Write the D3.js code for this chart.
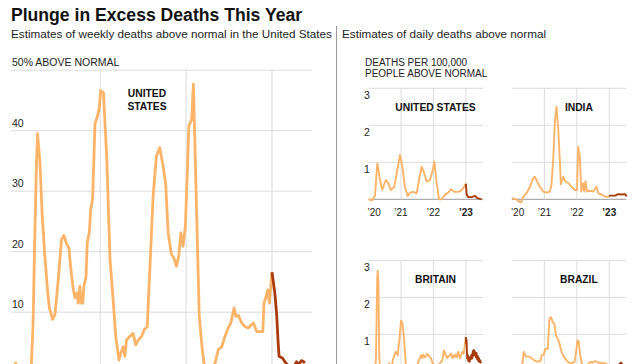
<!DOCTYPE html>
<html>
<head>
<meta charset="utf-8">
<script src="https://cdn.jsdelivr.net/npm/d3@7"></script>
<style>
  body { margin: 0; background: #fff; }
  svg { display: block; font-family: "Liberation Sans", Arial, Helvetica, sans-serif; }
</style>
</head>
<body>
<svg id="chart" width="640" height="364"></svg>
<script>
// weekly excess deaths in the US, percent above normal
const weeklyDates = [
  "2020-01-05","2020-01-19","2020-02-02","2020-02-16","2020-03-01","2020-03-15","2020-03-22","2020-03-29",
  "2020-04-05","2020-04-10","2020-04-20","2020-04-30","2020-05-11","2020-05-21","2020-05-30","2020-06-13",
  "2020-06-23","2020-07-07","2020-07-21","2020-07-31","2020-08-12","2020-08-21","2020-08-30","2020-09-09",
  "2020-09-16","2020-09-23","2020-09-30","2020-10-07","2020-10-13","2020-10-19","2020-10-24","2020-11-02",
  "2020-11-07","2020-11-16","2020-11-22","2020-11-30","2020-12-10","2020-12-19","2020-12-28","2021-01-03",
  "2021-01-15","2021-01-29","2021-02-12","2021-02-26","2021-03-08","2021-03-22","2021-03-30","2021-04-09",
  "2021-04-16","2021-04-23","2021-05-07","2021-05-21","2021-06-01","2021-06-12","2021-06-26","2021-07-07",
  "2021-07-20","2021-07-31","2021-08-14","2021-08-28","2021-09-11","2021-09-25","2021-10-06","2021-10-17",
  "2021-10-31","2021-11-10","2021-11-21","2021-12-01","2021-12-10","2021-12-19","2021-12-29","2022-01-13",
  "2022-01-25","2022-02-01","2022-02-12","2022-02-26","2022-03-08","2022-03-18","2022-04-01","2022-04-18",
  "2022-05-04","2022-05-18","2022-06-02","2022-06-15","2022-06-29","2022-07-10","2022-07-24","2022-08-01",
  "2022-08-11","2022-08-26","2022-09-09","2022-09-23","2022-10-03","2022-10-14","2022-10-28","2022-11-11",
  "2022-11-23","2022-11-28","2022-12-07","2022-12-14","2022-12-21","2022-12-27","2023-01-01","2023-01-13",
  "2023-01-21","2023-01-27","2023-01-31","2023-02-15","2023-02-25","2023-03-10","2023-03-25","2023-04-08",
  "2023-04-15","2023-04-26","2023-05-06","2023-05-16","2023-05-20"
];
const weeklyExcess = [
  1.8, 0.8, 0.5, 0.3, 0.6, 1.5, 8, 22,
  34, 39.5, 34.8, 25.9, 19.3, 14.3, 10.7, 8.8,
  9.6, 15.4, 22, 22.7, 21.2, 20.7, 17, 13.7,
  12.4, 13.2, 11.5, 14.3, 11.5, 11.5, 14.3, 15.9,
  21.5, 23.2, 27, 28.7, 41.1, 42.2, 43.6, 46.6,
  46.3, 35.5, 18.7, 11.6, 6, 2.1, 3.3, 4.3,
  2.7, 5.4, 6, 6.5, 4.6, 5.4, 6, 7.1,
  7.6, 17, 29.2, 35.8, 37.2, 34.2, 31.4, 23.1,
  19.5, 19, 17.6, 19.3, 23.1, 20.9, 24.2, 40.8,
  41.9, 47.7, 30.9, 9.3, 4.9, 1.6, 0.6, 0.8,
  1.6, 3.8, 4.3, 6, 7.4, 8.2, 10.7, 9.3,
  9.5, 8.2, 7.6, 7.4, 7.8, 8.2, 6.8, 6.8,
  6.8, 11.5, 12.6, 13.7, 11.5, 14.3, 16.6, 13.2,
  9.5, 5, 2.7, 2.4, 1.8, 1.2, 1.0, 1.3,
  1.8, 1.4, 2, 1.8, 1.6
];
const weeklyTicks = [10, 20, 30, 40, 50];

// daily excess deaths per 100,000 people
const countryNames = ["UNITED STATES", "INDIA", "BRITAIN", "BRAZIL"];
const usDaily = [
  ["2020-01-01",0],["2020-02-09",-0.03],["2020-03-14",0.1],["2020-04-09",0.97],["2020-04-25",0.75],
  ["2020-05-10",0.52],["2020-06-04",0.25],["2020-07-13",0.52],["2020-08-11",0.43],["2020-09-10",0.25],
  ["2020-10-17",0.34],["2020-11-13",0.7],["2020-12-21",1.2],["2021-01-16",0.88],["2021-02-14",0.34],
  ["2021-03-17",0.09],["2021-04-12",0.18],["2021-05-19",0.2],["2021-06-26",0.16],["2021-07-22",0.52],
  ["2021-08-22",0.88],["2021-09-20",0.7],["2021-10-17",0.48],["2021-11-23",0.52],["2021-12-24",0.79],
  ["2022-01-11",1.02],["2022-02-07",0.43],["2022-03-05",0],["2022-04-04",0],["2022-05-11",0.12],
  ["2022-06-17",0.18],["2022-07-18",0.27],["2022-08-24",0.2],["2022-10-08",0.2],["2022-11-15",0.25],
  ["2022-12-15",0.35],["2023-01-01",0.42],["2023-01-11",0.12],["2023-01-29",0.06],["2023-03-07",0.06],
  ["2023-04-13",0.09],["2023-05-13",0.03],["2023-06-27",0]
];
const indiaDaily = [
  ["2020-01-01",0.03],["2020-02-21",0],["2020-03-19",-0.06],["2020-04-17",-0.08],["2020-05-07",0.07],
  ["2020-06-13",0.16],["2020-07-22",0.34],["2020-08-28",0.57],["2020-09-16",0.61],["2020-10-15",0.46],
  ["2020-11-11",0.34],["2020-12-18",0.21],["2021-01-25",0.18],["2021-03-03",0.21],["2021-03-21",0.39],
  ["2021-04-09",1.02],["2021-04-29",2.1],["2021-05-17",2.5],["2021-06-05",1.92],["2021-06-24",1.02],
  ["2021-07-05",0.41],["2021-07-31",0.61],["2021-08-26",0.48],["2021-09-26",0.44],["2021-11-02",0.34],
  ["2021-12-10",0.25],["2022-01-02",0.25],["2022-01-17",1.42],["2022-02-05",1.1],["2022-02-20",0.21],
  ["2022-03-11",0.43],["2022-03-26",0.21],["2022-04-09",0.49],["2022-04-25",0.21],["2022-05-29",0.23],
  ["2022-07-05",0.21],["2022-08-11",0.34],["2022-08-30",0.16],["2022-10-06",0.13],["2022-11-14",0.07],
  ["2022-12-21",0.07],["2023-01-01",0.08],["2023-01-10",0.1],["2023-03-07",0.1],["2023-04-13",0.14],
  ["2023-05-21",0.13],["2023-06-28",0.14],["2023-07-16",0.08]
];
const britainDaily = [
  ["2020-01-01",0.05],["2020-03-01",0],["2020-03-25",0.3],["2020-04-08",2.5],["2020-04-14",2.72],
  ["2020-04-22",2.4],["2020-05-01",0.44],["2020-05-10",0.1],["2020-06-15",-0.05],["2020-08-01",0.05],
  ["2020-08-19",0.22],["2020-09-15",0.1],["2020-10-06",0.35],["2020-11-02",0.53],["2020-11-25",0.44],
  ["2020-12-13",0.84],["2021-01-01",1.37],["2021-01-15",1.33],["2021-02-01",0.97],["2021-02-15",0.53],
  ["2021-02-26",0.1],["2021-04-15",-0.05],["2021-06-15",0.05],["2021-07-15",0.26],["2021-08-15",0.44],
  ["2021-08-28",0.36],["2021-09-10",0.46],["2021-09-22",0.38],["2021-10-07",0.4],["2021-10-20",0.47],
  ["2021-11-05",0.44],["2021-12-05",0.35],["2021-12-24",0.22],["2022-02-07",0.12],["2022-04-11",0.3],
  ["2022-04-30",0.57],["2022-05-19",0.44],["2022-06-05",0.36],["2022-06-17",0.4],["2022-07-18",0.48],
  ["2022-07-30",0.36],["2022-08-13",0.44],["2022-08-26",0.38],["2022-09-09",0.46],["2022-09-22",0.38],
  ["2022-10-08",0.53],["2022-10-27",0.35],["2022-11-22",0.53],["2022-12-08",0.48],["2023-01-01",0.93],
  ["2023-01-05",0.75],["2023-01-09",0.85],["2023-01-16",0.35],["2023-01-22",0.45],["2023-01-28",0.28],
  ["2023-02-04",0.38],["2023-02-12",0.26],["2023-02-20",0.4],["2023-02-27",0.33],["2023-03-06",0.45],
  ["2023-03-14",0.35],["2023-03-20",0.55],["2023-03-27",0.42],["2023-04-03",0.58],["2023-04-10",0.44],
  ["2023-04-17",0.52],["2023-04-24",0.38],["2023-05-01",0.5],["2023-05-08",0.33],["2023-05-15",0.42],
  ["2023-05-22",0.28],["2023-05-29",0.36],["2023-06-05",0.25],["2023-06-12",0.3],["2023-06-20",0.22]
];
const brazilDaily = [
  ["2020-01-01",0],["2020-03-10",-0.05],["2020-04-10",0.1],["2020-05-02",0.26],["2020-05-13",0.53],
  ["2020-06-08",0.4],["2020-07-16",0.4],["2020-08-11",0.35],["2020-09-10",0.3],["2020-10-10",0.26],
  ["2020-11-17",0.28],["2020-12-02",0.44],["2020-12-24",0.44],["2021-01-08",0.6],["2021-02-08",0.62],
  ["2021-02-27",1.42],["2021-03-17",1.47],["2021-04-05",1.33],["2021-04-24",1.29],["2021-05-12",0.97],
  ["2021-05-31",0.88],["2021-06-20",0.75],["2021-07-08",0.57],["2021-07-27",0.44],["2021-08-22",0.35],
  ["2021-09-22",0.26],["2021-10-29",0.22],["2021-12-06",0.26],["2021-12-24",0.53],["2022-01-08",0.84],
  ["2022-01-23",0.8],["2022-02-07",0.44],["2022-02-26",0.22],["2022-03-28",0.1],["2022-06-04",0.26],
  ["2022-06-30",0.24],["2022-07-26",0.28],["2022-08-25",0.24],["2022-10-02",0.22],["2022-11-16",0.22],
  ["2022-12-17",0.17],["2023-01-01",0.15],["2023-02-15",0.1],["2023-04-01",0.12],["2023-05-10",0.24],
  ["2023-06-15",0.15]
];
const dailyTicks = [1, 2, 3];
const yearLabels = ["\u201920", "\u201921", "\u201922", "\u201923"];
const yearStarts = ["2020-01-01", "2021-01-01", "2022-01-01", "2023-01-01"];
const cutoffDate = "2023-01-01";

const parse = d3.timeParse("%Y-%m-%d");
const cutoff = parse(cutoffDate);
const orange = "#fdb468", dark = "#a83a0c", grid = "#dcdcdc", ink = "#222";

const svg = d3.select("#chart");

// headline
svg.append("text").attr("x", 11).attr("y", 21)
  .attr("font-size", 17.6).attr("font-weight", "bold").attr("fill", "#111")
  .text("Plunge in Excess Deaths This Year");
svg.append("text").attr("x", 11).attr("y", 37.5)
  .attr("font-size", 11.7).attr("fill", ink)
  .text("Estimates of weekly deaths above normal in the United States");
svg.append("text").attr("x", 342).attr("y", 37.5)
  .attr("font-size", 11.7).attr("fill", ink)
  .text("Estimates of daily deaths above normal");
svg.append("line").attr("x1", 336.5).attr("x2", 336.5).attr("y1", 26).attr("y2", 364)
  .attr("stroke", "#999").attr("stroke-width", 1);

// ---- main weekly chart ----
const weekly = weeklyDates.map((d, i) => ({ date: parse(d), value: weeklyExcess[i] }));
const x = d3.scaleTime().domain([parse("2020-01-01"), parse("2023-01-01")]).range([14, 272]);
const y = d3.scaleLinear().domain([0, 50]).range([372.7, 70.2]);

const main = svg.append("g");
main.selectAll(".hgrid").data(weeklyTicks).join("line")
  .attr("x1", 11).attr("x2", 312)
  .attr("y1", d => y(d)).attr("y2", d => y(d))
  .attr("stroke", grid);
main.selectAll(".vgrid").data(yearStarts.slice(1)).join("line")
  .attr("x1", d => x(parse(d))).attr("x2", d => x(parse(d)))
  .attr("y1", y(50)).attr("y2", 364)
  .attr("stroke", grid);
main.selectAll(".ylab").data(weeklyTicks).join("text")
  .attr("x", 12).attr("y", d => y(d) - 4)
  .attr("font-size", 10.5).attr("fill", ink)
  .text(d => d === 50 ? "50% ABOVE NORMAL" : d);

const mainLine = d3.line().x(d => x(d.date)).y(d => y(d.value));
main.append("path").datum(weekly.filter(d => d.date <= cutoff))
  .attr("d", mainLine).attr("fill", "none").attr("stroke", orange)
  .attr("stroke-width", 2.8).attr("stroke-linejoin", "round");
main.append("path").datum(weekly.filter(d => d.date >= cutoff))
  .attr("d", mainLine).attr("fill", "none").attr("stroke", dark)
  .attr("stroke-width", 2.8).attr("stroke-linejoin", "round");

main.append("text").attr("x", 147).attr("y", 97)
  .attr("font-size", 10.3).attr("font-weight", "bold").attr("text-anchor", "middle").attr("fill", "#111")
  .selectAll("tspan").data(["UNITED", "STATES"]).join("tspan")
  .attr("x", 147).attr("dy", (d, i) => i ? 12.5 : 0).text(d => d);

// ---- small multiples ----
svg.append("text").attr("x", 365).attr("y", 65.7)
  .attr("font-size", 10).attr("fill", ink)
  .selectAll("tspan").data(["DEATHS PER 100,000", "PEOPLE ABOVE NORMAL"]).join("tspan")
  .attr("x", 365).attr("dy", (d, i) => i ? 11.6 : 0).text(d => d);

const panelSeries = [usDaily, indiaDaily, britainDaily, brazilDaily];
const colLeft = [368.5, 511.9];
const rowZero = [199.3, 371.4];
const yearWidth = 32.45;

panelSeries.forEach((series, i) => {
  const col = i % 2, row = Math.floor(i / 2);
  const left = colLeft[col], zero = rowZero[row];
  const px = d3.scaleTime().domain([parse("2020-01-01"), parse("2023-01-01")])
    .range([left, left + 3 * yearWidth]);
  const py = d3.scaleLinear().domain([0, 3]).range([zero, zero - 111]);
  const g = svg.append("g");
  const data = series.map(d => ({ date: parse(d[0]), value: d[1] }));

  g.selectAll(".hg").data([0].concat(dailyTicks)).join("line")
    .attr("x1", left).attr("x2", left + 114.5)
    .attr("y1", d => py(d)).attr("y2", d => py(d))
    .attr("stroke", d => d === 0 ? "#999" : grid);
  g.selectAll(".vg").data(yearStarts.slice(1)).join("line")
    .attr("x1", d => px(parse(d))).attr("x2", d => px(parse(d)))
    .attr("y1", py(3)).attr("y2", py(0))
    .attr("stroke", grid);

  if (col === 0) {
    g.selectAll(".yl").data(dailyTicks).join("text")
      .attr("x", 364).attr("y", d => py(d) + 11)
      .attr("font-size", 10.5).attr("fill", ink).text(d => d);
  }
  if (row === 0) {
    g.selectAll(".xl").data(yearStarts).join("text")
      .attr("x", (d, k) => k === 0 ? px(parse(d)) - 1 : px(parse(d)))
      .attr("y", 216)
      .attr("text-anchor", (d, k) => k === 0 ? "start" : "middle")
      .attr("font-size", 10).attr("fill", ink)
      .attr("font-weight", (d, k) => k === 3 ? "bold" : "normal")
      .text((d, k) => yearLabels[k]);
  }

  const ln = d3.line().x(d => px(d.date)).y(d => py(d.value));
  g.append("path").datum(data.filter(d => d.date <= cutoff))
    .attr("d", ln).attr("fill", "none").attr("stroke", orange)
    .attr("stroke-width", 1.9).attr("stroke-linejoin", "round");
  g.append("path").datum(data.filter(d => d.date >= cutoff))
    .attr("d", ln).attr("fill", "none").attr("stroke", dark)
    .attr("stroke-width", 1.9).attr("stroke-linejoin", "round");

  g.append("text").attr("x", left + 67).attr("y", zero - 88.5)
    .attr("text-anchor", "middle").attr("font-size", 10.3).attr("font-weight", "bold")
    .attr("fill", "#111").text(countryNames[i]);
});
</script>
</body>
</html>
